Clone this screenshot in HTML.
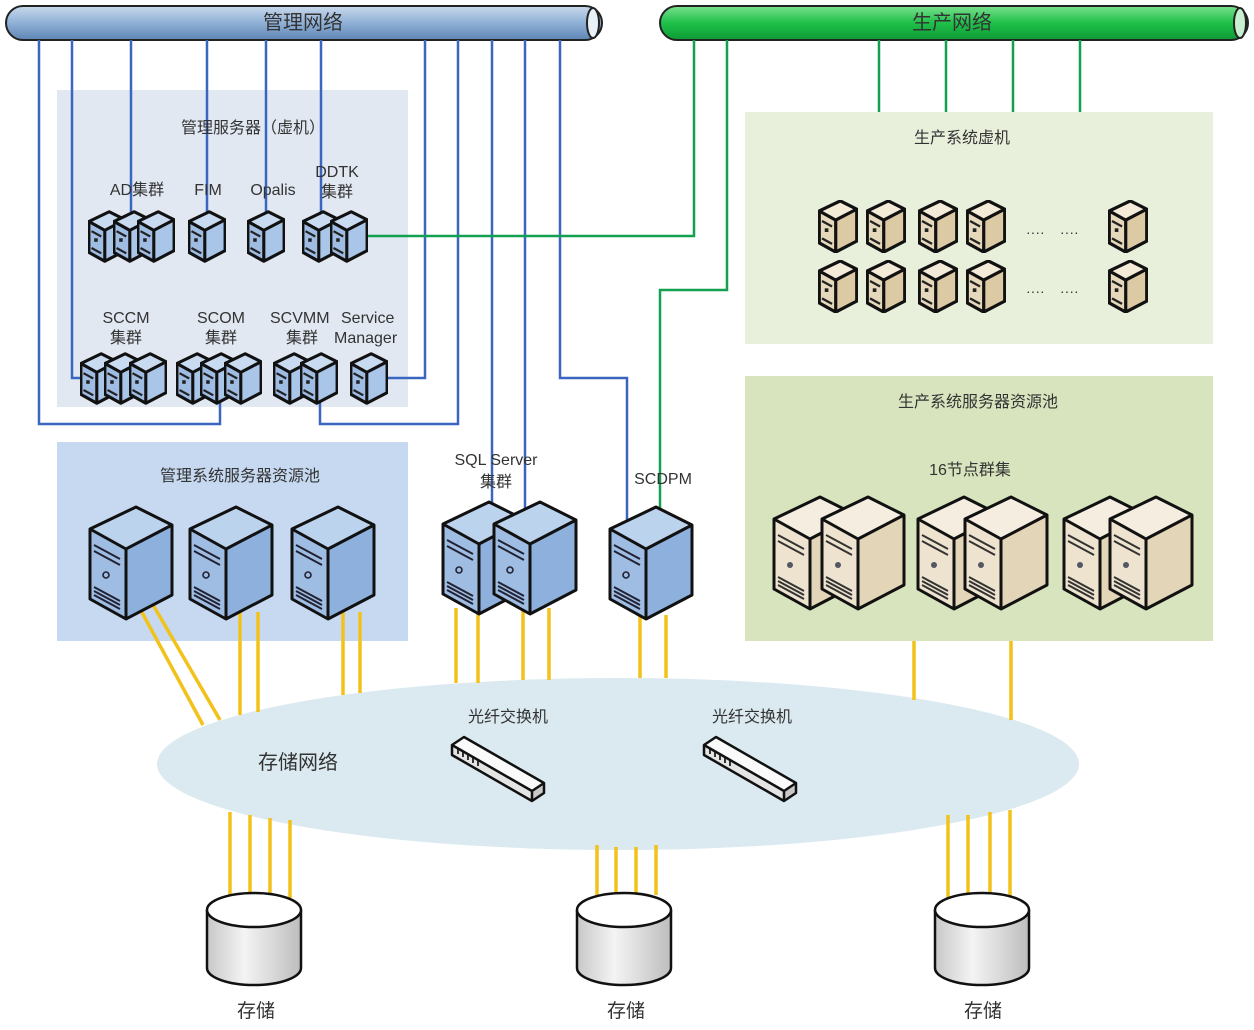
<!DOCTYPE html>
<html><head><meta charset="utf-8"><style>
html,body{margin:0;padding:0;background:#fff}
svg{display:block}
text{font-family:"Liberation Sans","Noto Sans CJK SC",sans-serif;fill:#333}
</style></head><body>
<svg width="1254" height="1030" viewBox="0 0 1254 1030" xmlns="http://www.w3.org/2000/svg">
<defs>
<linearGradient id="pipeB" x1="0" y1="0" x2="0" y2="1"><stop offset="0" stop-color="#c9d9ec"/><stop offset="0.5" stop-color="#8fb0d6"/><stop offset="1" stop-color="#5f85b5"/></linearGradient>
<linearGradient id="pipeG" x1="0" y1="0" x2="0" y2="1"><stop offset="0" stop-color="#7be08f"/><stop offset="0.5" stop-color="#1fc049"/><stop offset="1" stop-color="#0e9a35"/></linearGradient>
<linearGradient id="cyl" x1="0" y1="0" x2="1" y2="0"><stop offset="0" stop-color="#c8c8c8"/><stop offset="0.4" stop-color="#f4f4f4"/><stop offset="1" stop-color="#bdbdbd"/></linearGradient>
<symbol id="bL" viewBox="0 0 86 116">
<path d="M2,24 L48,2 L84,20 L38,44 Z" fill="#bcd3ee"/>
<path d="M2,24 L38,44 L38,114 L2,94 Z" fill="#9fbde3"/>
<path d="M38,44 L84,20 L84,90 L38,114 Z" fill="#8eb0dc"/>
<path d="M6,40 L32,54 M6,46 L32,60 M6,82 L32,96 M6,86 L32,100 M6,90 L32,104" stroke="#223" stroke-width="2"/>
<circle cx="18" cy="70" r="3" fill="none" stroke="#223" stroke-width="1.6"/>
<path d="M2,24 L48,2 L84,20 L84,90 L38,114 L2,94 Z M2,24 L38,44 L84,20 M38,44 L38,114" fill="none" stroke="#111" stroke-width="3" stroke-linejoin="round"/>
</symbol>
<symbol id="bS" viewBox="0 0 86 116">
<path d="M2,24 L48,2 L84,20 L38,44 Z" fill="#c8dbf0"/>
<path d="M2,24 L38,44 L38,114 L2,94 Z" fill="#9fbde3"/>
<path d="M38,44 L84,20 L84,90 L38,114 Z" fill="#a9c5e8"/>
<path d="M8,46 L30,58 M8,84 L30,96" stroke="#222" stroke-width="5"/>
<rect x="14" y="62" width="8" height="8" fill="#222"/>
<path d="M2,24 L48,2 L84,20 L84,90 L38,114 L2,94 Z M2,24 L38,44 L84,20 M38,44 L38,114" fill="none" stroke="#111" stroke-width="7" stroke-linejoin="round"/>
</symbol>
<symbol id="yL" viewBox="0 0 86 116">
<path d="M2,24 L48,2 L84,20 L38,44 Z" fill="#f4ede0"/>
<path d="M2,24 L38,44 L38,114 L2,94 Z" fill="#ede3cf"/>
<path d="M38,44 L84,20 L84,90 L38,114 Z" fill="#e3d5b8"/>
<path d="M6,40 L32,54 M6,46 L32,60 M6,82 L32,96 M6,86 L32,100 M6,90 L32,104" stroke="#333" stroke-width="2"/>
<circle cx="18" cy="70" r="3" fill="#556"/>
<path d="M2,24 L48,2 L84,20 L84,90 L38,114 L2,94 Z M2,24 L38,44 L84,20 M38,44 L38,114" fill="none" stroke="#111" stroke-width="3" stroke-linejoin="round"/>
</symbol>
<symbol id="yS" viewBox="0 0 86 116">
<path d="M2,24 L48,2 L84,20 L38,44 Z" fill="#f3ead8"/>
<path d="M2,24 L38,44 L38,114 L2,94 Z" fill="#e6d8bb"/>
<path d="M38,44 L84,20 L84,90 L38,114 Z" fill="#dccaa5"/>
<path d="M8,46 L30,58 M8,84 L30,96" stroke="#222" stroke-width="5"/>
<rect x="14" y="62" width="8" height="8" fill="#222"/>
<path d="M2,24 L48,2 L84,20 L84,90 L38,114 L2,94 Z M2,24 L38,44 L84,20 M38,44 L38,114" fill="none" stroke="#111" stroke-width="7" stroke-linejoin="round"/>
</symbol>
<symbol id="sw" viewBox="0 0 96 70">
<path d="M2,12 L14,4 L94,50 L82,58 Z" fill="#fafafa"/>
<path d="M2,12 L82,58 L82,68 L2,22 Z" fill="#e4e4e4"/>
<path d="M82,58 L94,50 L94,60 L82,68 Z" fill="#c8c8c8"/>
<path d="M8,16 L8,21 M13,19 L13,24 M18,22 L18,27 M23,25 L23,30 M28,28 L28,33" stroke="#333" stroke-width="2"/>
<path d="M2,12 L14,4 L94,50 L94,60 L82,68 L2,22 Z M2,12 L82,58 L94,50 M82,58 L82,68" fill="none" stroke="#111" stroke-width="2.5" stroke-linejoin="round"/>
</symbol>
</defs>

<!-- panels -->
<rect x="57" y="90" width="351" height="317" fill="#e1e8f2"/>
<rect x="57" y="442" width="351" height="199" fill="#c6d9f1"/>
<rect x="745" y="112" width="468" height="232" fill="#e8f0dc"/>
<rect x="745" y="376" width="468" height="265" fill="#d7e4bd"/>

<!-- storage ellipse -->
<ellipse cx="618" cy="764" rx="461" ry="86" fill="#dbeaf0"/>

<!-- pipes -->
<rect x="6" y="6" width="596" height="34" rx="17" fill="url(#pipeB)" stroke="#222" stroke-width="2"/>
<ellipse cx="593" cy="23" rx="6" ry="15" fill="#e8f0f8" stroke="#222" stroke-width="2"/>
<text x="303" y="29" font-size="20" text-anchor="middle" fill="#222">管理网络</text>
<rect x="660" y="6" width="588" height="34" rx="17" fill="url(#pipeG)" stroke="#222" stroke-width="2"/>
<ellipse cx="1240" cy="23" rx="6" ry="15" fill="#c8f0d0" stroke="#222" stroke-width="2"/>
<text x="952" y="29" font-size="20" text-anchor="middle" fill="#222">生产网络</text>

<!-- blue lines -->
<g fill="none" stroke="#3a66c0" stroke-width="2.5">
<path d="M39,40 V424 H220 V378"/>
<path d="M72,40 V378 H95"/>
<path d="M131,40 V236"/>
<path d="M207,40 V236"/>
<path d="M266,40 V236"/>
<path d="M321,40 V236"/>
<path d="M425,40 V378 H370"/>
<path d="M458,40 V424 H320 V385"/>
<path d="M492,40 V510"/>
<path d="M525,40 V520"/>
<path d="M560,40 V378 H627 V522"/>
</g>
<!-- green lines -->
<g fill="none" stroke="#13a050" stroke-width="2.5">
<path d="M350,236 H694 V40"/>
<path d="M727,40 V290 H660 V512"/>
<path d="M879,40 V112 M946,40 V112 M1013,40 V112 M1080,40 V112"/>
</g>

<!-- yellow lines -->
<g stroke="#f2c21b" stroke-width="3.5" fill="none">
<path d="M138,605 L203,725 M152,603 L220,720"/>
<path d="M240,612 V715 M258,612 V712"/>
<path d="M343,612 V695 M360,612 V693"/>
<path d="M456,608 V683 M478,608 V683 M523,608 V680 M549,608 V680"/>
<path d="M640,615 V678 M666,615 V678"/>
<path d="M914,641 V700 M1011,641 V720"/>
<path d="M230,812 V898 M250,815 V900 M270,818 V900 M290,820 V898"/>
<path d="M597,845 V895 M616,847 V895 M636,847 V895 M656,845 V895"/>
<path d="M948,815 V898 M968,815 V900 M990,812 V900 M1010,810 V898"/>
</g>

<!-- mgmt VM servers -->
<text x="253" y="133" font-size="16" text-anchor="middle">管理服务器（虚机）</text>
<text x="137" y="195" font-size="16" text-anchor="middle">AD集群</text>
<text x="208" y="195" font-size="16" text-anchor="middle">FIM</text>
<text x="273" y="195" font-size="16" text-anchor="middle">Opalis</text>
<text x="337" y="177" font-size="16" text-anchor="middle">DDTK</text>
<text x="337" y="197" font-size="16" text-anchor="middle">集群</text>
<use href="#bS" x="88" y="210" width="38" height="53"/>
<use href="#bS" x="113" y="210" width="38" height="53"/>
<use href="#bS" x="137" y="210" width="38" height="53"/>
<use href="#bS" x="188" y="210" width="38" height="53"/>
<use href="#bS" x="247" y="210" width="38" height="53"/>
<use href="#bS" x="302" y="210" width="38" height="53"/>
<use href="#bS" x="330" y="210" width="38" height="53"/>

<text x="126" y="323" font-size="16" text-anchor="middle">SCCM</text>
<text x="126" y="343" font-size="16" text-anchor="middle">集群</text>
<text x="221" y="323" font-size="16" text-anchor="middle">SCOM</text>
<text x="221" y="343" font-size="16" text-anchor="middle">集群</text>
<text x="270" y="323" font-size="16">SCVMM</text>
<text x="286" y="343" font-size="16">集群</text>
<text x="341" y="323" font-size="16">Service</text>
<text x="334" y="343" font-size="16">Manager</text>
<use href="#bS" x="80" y="352" width="38" height="53"/>
<use href="#bS" x="104" y="352" width="38" height="53"/>
<use href="#bS" x="129" y="352" width="38" height="53"/>
<use href="#bS" x="176" y="352" width="38" height="53"/>
<use href="#bS" x="200" y="352" width="38" height="53"/>
<use href="#bS" x="224" y="352" width="38" height="53"/>
<use href="#bS" x="273" y="352" width="38" height="53"/>
<use href="#bS" x="300" y="352" width="38" height="53"/>
<use href="#bS" x="350" y="352" width="38" height="53"/>

<!-- mgmt pool -->
<text x="240" y="481" font-size="16" text-anchor="middle">管理系统服务器资源池</text>
<use href="#bL" x="88" y="505" width="86" height="116"/>
<use href="#bL" x="188" y="505" width="86" height="116"/>
<use href="#bL" x="290" y="505" width="86" height="116"/>

<!-- SQL & SCDPM -->
<text x="496" y="465" font-size="16" text-anchor="middle">SQL Server</text>
<text x="496" y="487" font-size="16" text-anchor="middle">集群</text>
<use href="#bL" x="441" y="500" width="86" height="116"/>
<use href="#bL" x="492" y="500" width="86" height="116"/>
<text x="663" y="484" font-size="16" text-anchor="middle">SCDPM</text>
<use href="#bL" x="608" y="505" width="86" height="116"/>

<!-- prod VMs -->
<text x="962" y="143" font-size="16" text-anchor="middle">生产系统虚机</text>
<g>
<use href="#yS" x="818" y="200" width="40" height="53"/>
<use href="#yS" x="866" y="200" width="40" height="53"/>
<use href="#yS" x="918" y="200" width="40" height="53"/>
<use href="#yS" x="966" y="200" width="40" height="53"/>
<use href="#yS" x="1108" y="200" width="40" height="53"/>
<use href="#yS" x="818" y="260" width="40" height="53"/>
<use href="#yS" x="866" y="260" width="40" height="53"/>
<use href="#yS" x="918" y="260" width="40" height="53"/>
<use href="#yS" x="966" y="260" width="40" height="53"/>
<use href="#yS" x="1108" y="260" width="40" height="53"/>
</g>
<text x="1026" y="237" font-size="14">····</text>
<text x="1060" y="237" font-size="14">····</text>
<text x="1026" y="296" font-size="14">····</text>
<text x="1060" y="296" font-size="14">····</text>

<!-- prod pool -->
<text x="978" y="407" font-size="16" text-anchor="middle">生产系统服务器资源池</text>
<text x="970" y="475" font-size="16" text-anchor="middle">16节点群集</text>
<use href="#yL" x="772" y="495" width="86" height="116"/>
<use href="#yL" x="820" y="495" width="86" height="116"/>
<use href="#yL" x="916" y="495" width="86" height="116"/>
<use href="#yL" x="963" y="495" width="86" height="116"/>
<use href="#yL" x="1062" y="495" width="86" height="116"/>
<use href="#yL" x="1108" y="495" width="86" height="116"/>

<!-- storage network -->
<text x="298" y="769" font-size="20" text-anchor="middle" fill="#222">存储网络</text>
<text x="508" y="722" font-size="16" text-anchor="middle">光纤交换机</text>
<text x="752" y="722" font-size="16" text-anchor="middle">光纤交换机</text>
<use href="#sw" x="450" y="733" width="96" height="70"/>
<use href="#sw" x="702" y="733" width="96" height="70"/>

<!-- storage cylinders -->
<g stroke="#111" stroke-width="2.5">
<path d="M207,910 V968 A47,17 0 0 0 301,968 V910" fill="url(#cyl)"/>
<ellipse cx="254" cy="910" rx="47" ry="17" fill="#fff"/>
<path d="M577,910 V968 A47,17 0 0 0 671,968 V910" fill="url(#cyl)"/>
<ellipse cx="624" cy="910" rx="47" ry="17" fill="#fff"/>
<path d="M935,910 V968 A47,17 0 0 0 1029,968 V910" fill="url(#cyl)"/>
<ellipse cx="982" cy="910" rx="47" ry="17" fill="#fff"/>
</g>
<text x="256" y="1017" font-size="19" text-anchor="middle">存储</text>
<text x="626" y="1017" font-size="19" text-anchor="middle">存储</text>
<text x="983" y="1017" font-size="19" text-anchor="middle">存储</text>
</svg>
</body></html>
